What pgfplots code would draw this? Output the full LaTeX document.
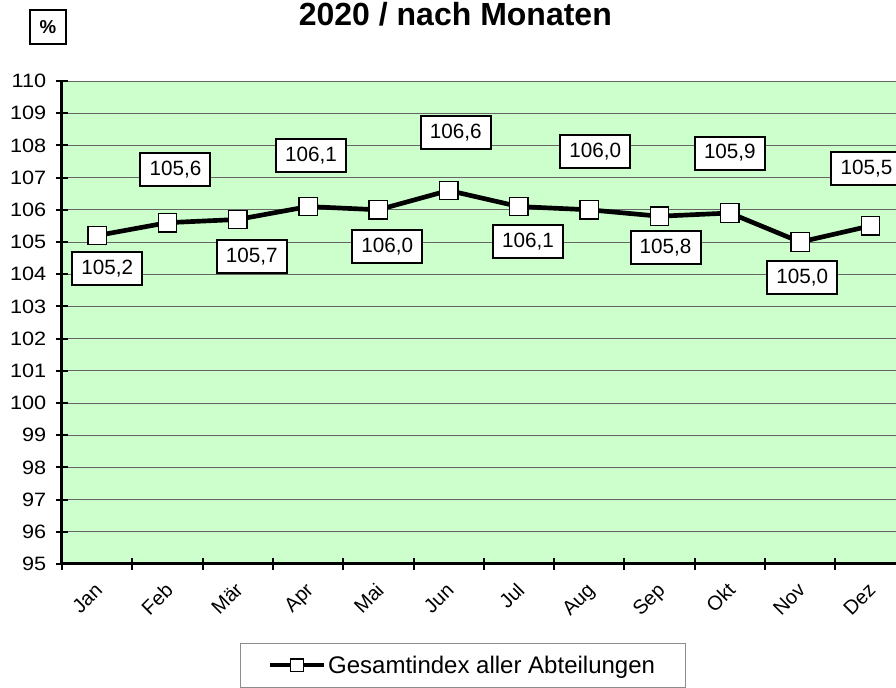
\documentclass[border=0pt]{standalone}
\usepackage{pgfplots}
\pgfplotsset{compat=1.18}
\usepackage{pgfplotstable}
\usepackage{fontspec}
\setmainfont{Liberation Sans}

\definecolor{plotbg}{RGB}{204,255,204}

% month index, index value, label offset (pt)
\pgfplotstableread{
x  y      dx     dy
0  105.2  7.5   -24.75
1  105.6  6      39.75
2  105.7  10.5  -27.75
3  106.1  2.25   38.25
4  106.0  6.75  -27.75
5  106.6  5.25   43.5
6  106.1  6.75  -26.25
7  106.0  4.5    43.5
8  105.8  4.5   -23.25
9  105.9  0      45
10 105.0  1.5   -27
11 105.5  -3     42.75
}\gesamt

\begin{document}
\begin{tikzpicture}
\begin{axis}[
  name=ax, at={(0,0)}, anchor=south west,
  x=52.725pt, y=24.15pt,
  xmin=-0.5, xmax=11.5, ymin=95, ymax=110,
  axis x line*=bottom, axis y line*=left,
  axis line style={line width=2.25pt, -},
  axis background/.style={fill=plotbg},
  ytick={95,...,110},
  xtick={-0.5,0.5,...,11.5}, xticklabels={},
  extra x ticks={0,...,11},
  extra x tick labels={Jan,Feb,Mär,Apr,Mai,Jun,Jul,Aug,Sep,Okt,Nov,Dez},
  extra x tick style={major tick length=0pt, grid=none,
    tick label style={xshift=-2.6pt, yshift=-8.25pt, rotate=45, anchor=north east,
      font=\fontsize{15}{18}\selectfont}},
  tick align=center, major tick length=9pt,
  tick style={black, line width=1.5pt},
  ymajorgrids, grid style={black!60, line width=0.6pt},
  tick label style={font=\fontsize{14.5}{17}\selectfont},
  /pgf/number format/assume math mode=true,
  yticklabel style={xscale=1.12, xshift=-3pt},
  legend style={at={(0.4753,-0.164)}, anchor=north, draw=black!45,
    line width=0.75pt, inner xsep=21pt, inner ysep=7pt,
    font=\fontsize{18}{21}\selectfont},
  legend image code/.code={%
    \draw[#1, line width=3pt, mark size=4.8pt, mark repeat=2, mark phase=2]
      plot coordinates {(0pt,0pt) (20pt,0pt) (40pt,0pt)};},
  nodes near coords={\pgfmathprintnumber[fixed,fixed zerofill,precision=1,use comma]{\pgfplotspointmeta}},
  visualization depends on={\thisrow{dx}\as\labdx},
  visualization depends on={\thisrow{dy}\as\labdy},
  every node near coord/.style={anchor=center, xshift=\labdx pt, yshift=\labdy pt,
    draw=black, line width=1.5pt, fill=white, text=black,
    minimum width=52.5pt, minimum height=24.75pt, inner sep=1pt,
    font=\fontsize{15.5}{18}\selectfont},
]
\addplot[black, line width=3.5pt, mark=square*, mark size=6.9pt,
  mark options={fill=white, draw=black, line width=1pt}]
  table[x=x, y=y] {\gesamt};
\addlegendentry{Gesamtindex aller Abteilungen}
\end{axis}

\node[font=\bfseries\fontsize{24}{28}\selectfont] at (295pt,412.5pt) {2020 / nach Monaten};
\node[draw, line width=1.5pt, font=\bfseries\fontsize{14}{16}\selectfont,
  minimum width=27pt, minimum height=25.5pt, inner sep=0pt] at (-10.5pt,402.75pt) {\%};

\pgfresetboundingbox
\path (-46.5pt,-93pt) rectangle (625.5pt,423pt);
\end{tikzpicture}
\end{document}
